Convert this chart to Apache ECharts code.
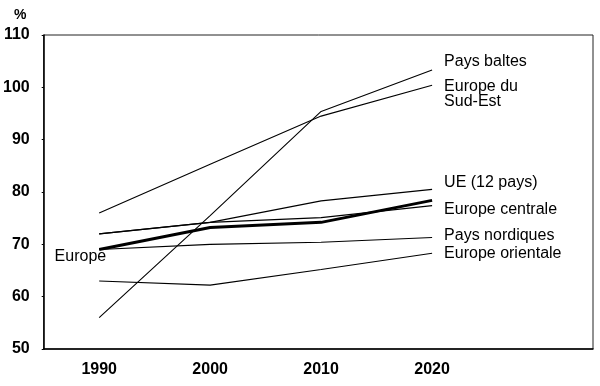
<!DOCTYPE html>
<html>
<head>
<meta charset="utf-8">
<script src="https://cdn.jsdelivr.net/npm/echarts@6/dist/echarts.min.js"></script>
<style>html,body{margin:0;padding:0;background:#fff}#c{width:600px;height:386px}</style>
</head>
<body>
<div id="c"></div>
<script>
var years = [1990, 2000, 2010, 2020];
var yTicks = [50, 60, 70, 80, 90, 100, 110];
var paysBaltes = [56, 75.5, 95.4, 103.3];
var europeSudEst = [76, 85.3, 94.5, 100.4];
var ue12 = [72, 74.2, 78.3, 80.5];
var europeCentrale = [72, 74.2, 75.1, 77.4];
var europe = [69, 73.2, 74.2, 78.4];
var paysNordiques = [69, 70, 70.4, 71.3];
var europeOrientale = [63, 62.2, 65.2, 68.3];

var FONT = '"Liberation Sans", Arial, Helvetica, sans-serif';
function pairs(vals){ return years.map(function(y,i){ return [y, vals[i]]; }); }

function thin(name, vals, label, dy){
  return {
    type: 'line', name: name, data: pairs(vals), symbol: 'none',
    lineStyle: {color: '#000', width: 1.1},
    endLabel: {show: true, formatter: label, distance: 12, offset: [0, dy],
      color: '#000', fontFamily: FONT, fontSize: 16, lineHeight: 15, align: 'left'},
    silent: true, z: 2
  };
}

var chart = echarts.init(document.getElementById('c'), null, {renderer: 'canvas'});
chart.setOption({
  animation: false,
  backgroundColor: '#fff',
  title: {text: '%', left: 9, top: 3, textStyle: {fontFamily: FONT, fontSize: 14, fontWeight: 'bold', color: '#000'}},
  grid: {left: 43, top: 35, right: 7, bottom: 37, show: true, borderColor: '#222', borderWidth: 1, backgroundColor: 'transparent'},
  xAxis: {
    type: 'value', min: 1985, max: 2034.5,
    axisLine: {show: true, lineStyle: {color: '#000', width: 1.5}},
    axisTick: {show: false},
    splitLine: {show: false},
    axisLabel: {customValues: years, margin: 13, color: '#000', fontFamily: FONT, fontSize: 16, fontWeight: 'bold',
      formatter: function(v){ return String(v); }}
  },
  yAxis: {
    type: 'value', min: 50, max: 110, interval: 10,
    axisLine: {show: true, lineStyle: {color: '#000', width: 1.5}},
    axisTick: {show: true, length: 2, lineStyle: {color: '#000'}},
    splitLine: {show: false},
    axisLabel: {margin: 14, color: '#000', fontFamily: FONT, fontSize: 16, fontWeight: 'bold',
      customValues: yTicks}
  },
  series: [
    thin('Pays baltes', paysBaltes, 'Pays baltes', -8),
    thin('Europe du Sud-Est', europeSudEst, 'Europe du\nSud-Est', 9),
    thin('UE (12 pays)', ue12, 'UE (12 pays)', -7),
    thin('Europe centrale', europeCentrale, 'Europe centrale', 4),
    thin('Pays nordiques', paysNordiques, 'Pays nordiques', -2),
    thin('Europe orientale', europeOrientale, 'Europe orientale', 0),
    {
      type: 'line', name: 'Europe', data: pairs(europe), symbol: 'none',
      lineStyle: {color: '#000', width: 3}, silent: true, z: 3,
      markPoint: {
        symbol: 'circle', symbolSize: 0, silent: true,
        data: [{coord: [years[0], europe[0]], value: 'Europe'}],
        label: {show: true, formatter: 'Europe', position: 'left', distance: 0, offset: [7, 7],
          color: '#000', fontFamily: FONT, fontSize: 16}
      }
    }
  ]
});
</script>
</body>
</html>
